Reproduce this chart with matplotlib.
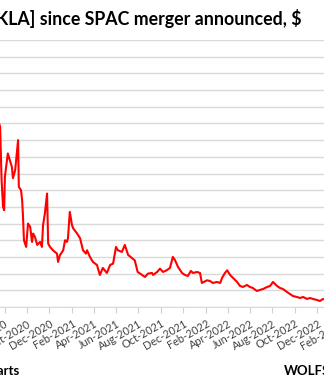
import matplotlib
matplotlib.use("Agg")
import matplotlib.pyplot as plt
import matplotlib.dates as mdates
import pandas as pd

# share price readings, $ (only the right part of the chart is in frame)
dates = [
    "2020-03-03", "2020-04-15", "2020-05-15", "2020-06-03", "2020-06-09", "2020-06-20",
    "2020-07-06", "2020-07-14", "2020-07-20", "2020-07-24", "2020-07-28", "2020-07-31",
    "2020-08-02", "2020-08-10", "2020-08-21", "2020-08-24", "2020-08-30", "2020-09-07",
    "2020-09-09", "2020-09-15", "2020-09-18", "2020-09-20", "2020-09-23", "2020-09-29",
    "2020-10-04", "2020-10-10", "2020-10-15", "2020-10-18", "2020-10-23", "2020-10-29",
    "2020-11-06", "2020-11-11", "2020-11-14", "2020-11-19", "2020-11-25", "2020-11-28",
    "2020-12-03", "2020-12-11", "2020-12-22", "2020-12-25", "2020-12-30", "2021-01-08",
    "2021-01-13", "2021-01-18", "2021-01-21", "2021-01-26", "2021-02-01", "2021-02-04",
    "2021-02-15", "2021-02-23", "2021-03-03", "2021-03-11", "2021-03-14", "2021-03-22",
    "2021-03-30", "2021-04-10", "2021-04-18", "2021-04-26", "2021-05-07", "2021-05-16",
    "2021-05-24", "2021-06-01", "2021-06-06", "2021-06-17", "2021-06-25", "2021-07-04",
    "2021-07-14", "2021-07-22", "2021-07-30", "2021-08-11", "2021-08-19", "2021-08-27",
    "2021-09-07", "2021-09-10", "2021-09-21", "2021-09-29", "2021-10-07", "2021-10-17",
    "2021-10-26", "2021-11-03", "2021-11-09", "2021-11-17", "2021-11-28", "2021-12-06",
    "2021-12-14", "2021-12-22", "2021-12-28", "2022-01-08", "2022-01-16", "2022-01-21",
    "2022-02-04", "2022-02-12", "2022-02-20", "2022-03-03", "2022-03-12", "2022-03-17",
    "2022-03-25", "2022-03-31", "2022-04-08", "2022-04-16", "2022-04-27", "2022-05-05",
    "2022-05-13", "2022-05-24", "2022-06-01", "2022-06-09", "2022-06-20", "2022-06-28",
    "2022-07-07", "2022-07-18", "2022-07-26", "2022-08-03", "2022-08-14", "2022-08-22",
    "2022-08-30", "2022-09-10", "2022-09-18", "2022-09-26", "2022-10-07", "2022-10-16",
    "2022-10-24", "2022-11-04", "2022-11-12", "2022-11-20", "2022-12-01", "2022-12-09",
    "2022-12-17", "2022-12-28", "2023-01-10",
]
price = [
    11.0, 15.0, 30.0, 40.0, 79.0, 55.0,
    66.0, 56.0, 54.0, 38.0, 30.0, 29.0,
    39.0, 46.0, 42.0, 38.6, 41.0, 50.0,
    36.0, 35.0, 32.0, 28.0, 20.0, 18.0,
    25.0, 24.0, 19.5, 22.0, 21.0, 18.6,
    19.5, 18.0, 24.5, 28.0, 34.0, 19.0,
    18.0, 17.0, 16.0, 13.5, 15.5, 17.0,
    20.0, 19.5, 20.6, 28.5, 24.5, 23.6,
    22.0, 20.6, 17.0, 16.0, 17.0, 15.0,
    13.5, 12.6, 9.6, 11.7, 10.2, 12.6,
    13.0, 18.0, 17.0, 16.5, 18.6, 15.6,
    14.7, 14.0, 10.5, 9.6, 9.0, 10.0,
    10.2, 9.6, 10.5, 11.5, 10.5, 11.0,
    11.7, 15.0, 14.0, 12.0, 10.2, 9.6,
    9.3, 10.8, 10.2, 10.5, 10.2, 7.2,
    8.0, 7.8, 7.2, 7.5, 7.2, 8.7,
    10.2, 11.0, 9.6, 8.7, 7.5, 6.3,
    6.0, 6.6, 6.0, 5.7, 4.8, 5.1,
    5.4, 6.0, 6.3, 7.5, 6.3, 5.7,
    5.4, 4.5, 3.9, 3.3, 3.0, 2.7,
    3.0, 2.4, 2.7, 2.4, 2.1, 1.8,
    2.4, 2.0, 2.3,
]

title = "Share Price of Nikola [NKLA] since SPAC merger announced, $"
source = "Data: YCharts"
brand = "WOLFSTREET.com"

W, H = 324, 385
fig = plt.figure(figsize=(W / 100, H / 100), dpi=100)
plt.rcParams['font.family'] = ['Lato', 'DejaVu Sans']

# plot area runs past the left and right edges of the crop
left_px, right_px = -51.6, 344.9
ax = fig.add_axes([left_px / W, (H - 307) / H, (right_px - left_px) / W, 267 / H])

x = pd.to_datetime(dates)
ax.plot(x, price, color='#ff0000', linewidth=1.5)

ax.set_xlim(pd.Timestamp("2020-03-01"), pd.Timestamp("2023-02-15"))
ax.set_ylim(0, 80)
ax.set_yticks(range(0, 81, 5))
ax.yaxis.grid(True, color='#d9d9d9', linewidth=1.0)
ax.set_axisbelow(True)
ax.tick_params(axis='y', left=False, labelleft=False)

ax.xaxis.set_major_locator(mdates.MonthLocator(bymonth=[2, 4, 6, 8, 10, 12]))
ax.xaxis.set_major_formatter(mdates.DateFormatter("%b-%Y"))
ax.tick_params(axis='x', direction='out', length=4, color='#d0d0d0', width=0.8,
               labelsize=7.8, labelcolor='#404040', pad=4)
for lab in ax.get_xticklabels():
    lab.set_rotation(30)
    lab.set_ha('right')
    lab.set_rotation_mode('anchor')

for side in ['left', 'right', 'top']:
    ax.spines[side].set_visible(False)
ax.spines['bottom'].set_color('#d9d9d9')

fig.text(302 / W, 1 - 25 / H, title, ha='right', va='baseline',
         fontsize=12.8, fontweight='bold')
fig.text(19 / W, 1 - 375 / H, source, ha='right', va='baseline',
         fontsize=9.5, fontweight='bold')
fig.text(284 / W, 1 - 375 / H, brand, ha='left', va='baseline',
         fontsize=9.5, fontweight='bold')

fig.savefig("out.png", dpi=100)
